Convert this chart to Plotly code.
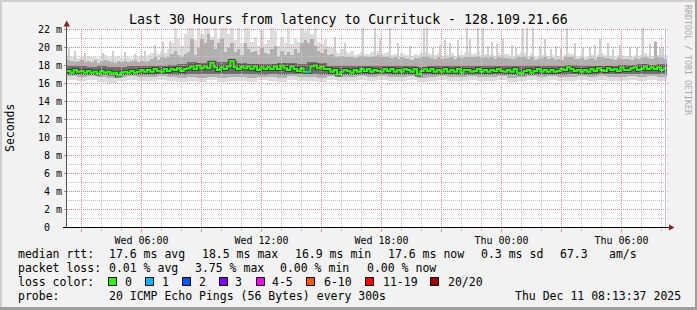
import numpy as np
import pandas as pd
import plotly.graph_objects as go

MONO = "DejaVu Sans Mono"

# ---------------- data ----------------
T0 = pd.Timestamp("2025-12-10 02:16:30")
T1 = T0 + pd.Timedelta(hours=30)

# median RTT per 10-minute bin (ms)
median_ms = [
    17.4,17.2,17.5,17.3,17.4,17.2, 17.4,17.2,17.3,17.1,17.4,17.2,
    17.3,17.1,17.2,16.9,17.2,17.3, 17.2,17.4,17.2,17.3,17.5,17.3,
    17.5,17.3,17.6,17.4,17.3,17.6, 17.4,17.6,17.5,17.7,17.4,17.6,
    17.7,17.9,17.6,18.0,17.7,17.9, 17.7,18.3,17.8,17.5,17.8,17.6,
    17.9,18.5,17.8,17.6,17.9,17.7, 17.9,17.6,17.9,17.5,17.8,17.6,
    17.8,17.6,17.9,17.6,18.0,17.7, 17.5,17.9,17.6,17.4,17.7,17.3,
    17.3,17.9,18.0,17.7,17.9,17.6, 17.6,17.3,17.5,17.0,17.3,17.5,
    17.4,17.2,17.5,17.3,17.6,17.4, 17.6,17.3,17.5,17.4,17.3,17.6,
    17.4,17.6,17.3,17.5,17.3,17.6, 17.5,17.3,17.6,17.0,17.4,17.6,
    17.4,17.6,17.3,17.5,17.3,17.6, 17.3,17.5,17.3,17.6,17.2,17.5,
    17.5,17.3,17.4,17.6,17.3,17.5, 17.3,17.5,17.4,17.6,17.4,17.3,
    17.5,17.3,17.6,17.2,17.1,17.4, 17.5,17.2,17.4,17.6,17.3,17.5,
    17.3,17.5,17.3,17.4,17.6,17.5, 17.8,17.6,17.4,17.5,17.3,17.5,
    17.3,17.6,17.4,17.7,17.5,17.4, 17.7,17.5,17.6,17.4,17.8,17.5,
    17.5,17.7,17.8,17.5,17.6,17.9, 17.6,17.8,17.6,17.8,17.5,17.7,
]
# slowest ping per 10-minute bin (ms)
ping_max = [
    19.2,19.0,18.9,18.8,19.0,18.9, 19.1,18.9,19.0,18.8,19.1,19.2,
    19.0,18.9,19.0,19.1,18.8,19.0, 19.0,18.8,19.2,18.9,19.1,19.0,
    19.2,19.4,19.6,19.3,19.5,19.4, 19.8,20.5,22.2,21.0,20.2,21.5,
    22.2,22.2,20.8,22.2,21.5,22.2, 22.2,21.2,22.2,21.0,22.2,22.2,
    21.5,22.2,20.8,22.2,20.5,22.2, 22.2,20.6,21.2,20.2,22.0,20.4,
    20.8,22.2,21.8,20.2,21.2,20.5, 22.2,20.4,21.0,20.6,22.2,21.8,
    22.2,21.5,22.2,20.6,20.4,21.0, 20.2,20.0,19.6,19.4,19.8,19.6,
    19.4,19.6,19.2,19.3,19.5,19.3, 19.3,19.5,19.4,19.6,19.3,19.4,
    19.5,19.2,19.3,19.1,19.4,19.2, 19.2,19.1,19.3,19.2,19.4,19.5,
    19.4,19.3,19.2,19.4,19.1,19.3, 19.2,19.4,19.1,19.3,19.2,19.4,
    19.5,19.3,19.4,19.6,19.2,19.3, 19.2,19.3,19.1,19.4,19.2,19.3,
    19.3,19.1,19.2,19.3,19.5,19.4, 19.1,19.4,19.0,19.1,19.2,19.3,
    19.1,19.2,19.0,19.1,19.0,19.3, 19.4,19.3,19.1,19.0,19.2,19.0,
    19.1,19.2,19.0,19.3,19.4,19.2, 19.2,19.1,19.0,19.2,19.1,19.1,
    19.1,19.0,19.2,19.1,19.2,19.4, 19.2,19.1,19.3,19.2,19.1,19.2,
]
# 90th percentile ping per 10-minute bin (ms)
ping_p90 = [
    18.6,18.5,18.4,18.5,18.6,18.4, 18.5,18.4,18.6,18.3,18.5,18.6,
    18.5,18.4,18.3,18.5,18.4,18.5, 18.4,18.5,18.6,18.4,18.5,18.4,
    18.5,18.7,18.9,18.6,19.0,18.8, 19.0,19.3,19.6,19.2,19.0,19.3,
    19.5,21.0,19.2,20.0,21.0,20.5, 21.5,20.8,19.8,20.5,21.0,19.5,
    20.0,20.5,19.5,19.8,19.2,20.5, 19.8,19.5,19.6,19.2,20.0,19.4,
    19.3,19.8,20.2,19.0,19.6,19.2, 19.5,19.2,19.8,19.4,20.5,20.8,
    20.5,21.0,20.2,19.6,19.4,19.8, 19.2,19.3,19.0,18.9,19.1,19.0,
    18.9,19.0,18.8,18.9,19.1,18.9, 18.9,19.0,19.1,19.2,18.9,19.0,
    19.0,18.8,18.9,18.7,18.9,18.8, 18.7,18.6,18.8,18.8,18.9,19.0,
    19.0,18.8,18.7,18.9,18.7,18.8, 18.8,18.9,18.7,18.9,18.8,19.0,
    19.0,18.9,19.0,19.1,18.8,18.9, 18.8,18.9,18.7,19.0,18.8,18.8,
    18.8,18.7,18.8,18.9,19.0,19.0, 18.7,19.0,18.6,18.7,18.8,18.9,
    18.7,18.8,18.6,18.7,18.6,18.9, 19.0,18.9,18.7,18.7,18.8,18.6,
    18.7,18.8,18.6,18.9,19.0,18.8, 18.8,18.7,18.6,18.8,18.7,18.7,
    18.7,18.6,18.8,18.7,18.8,19.0, 18.8,18.7,20.6,18.9,18.8,18.7,
]
# per 30-minute bin (ms)
ping_min = [
    16.4,16.3,16.4,16.2,16.1,16.3,16.4,16.3,16.3,16.4,
    16.3,16.2,16.3,16.2,16.4,16.2,16.3,16.3,16.2,16.4,
    16.3,16.2,16.4,16.3,16.3,16.2,16.4,16.3,16.3,16.4,
    16.3,16.4,16.3,16.3,16.4,16.2,16.3,16.4,16.3,16.3,
    16.4,16.3,16.3,16.4,16.2,16.3,16.4,16.3,16.4,16.3,
    16.3,16.4,16.3,16.4,16.3,16.3,16.4,16.3,16.4,16.3,
]
ping_p10 = [
    16.8,16.7,16.8,16.7,16.6,16.7,16.8,16.7,16.7,16.8,
    16.7,16.6,16.7,16.6,16.7,16.6,16.7,16.7,16.6,16.7,
    16.7,16.6,16.8,16.7,16.7,16.6,16.8,16.7,16.7,16.8,
    16.7,16.8,16.7,16.7,16.8,16.6,16.7,16.8,16.7,16.7,
    16.8,16.7,16.7,16.8,16.6,16.7,16.8,16.7,16.8,16.7,
    16.7,16.8,16.7,16.8,16.7,16.7,16.8,16.7,16.8,16.7,
]
ping_p25 = [
    17.0,17.0,17.0,16.9,16.9,17.0,17.0,17.0,17.0,17.1,
    17.0,17.0,17.1,17.1,17.1,17.1,17.1,17.1,17.1,17.0,
    17.1,17.0,17.1,17.1,17.1,17.0,17.0,16.9,17.0,17.0,
    17.0,17.1,17.0,17.0,17.0,16.9,17.0,17.0,17.0,17.0,
    17.0,17.0,17.0,17.0,16.9,17.0,17.0,17.0,17.0,17.0,
    17.1,17.0,17.0,17.1,17.1,17.1,17.1,17.1,17.1,17.1,
]
ping_p75 = [
    17.9,17.9,17.8,17.9,17.8,17.8,17.9,17.9,18.0,17.9,
    18.1,18.2,18.4,18.3,18.5,18.4,18.5,18.3,18.2,18.2,
    18.2,18.3,18.3,18.2,18.4,18.3,18.0,17.9,17.9,18.0,
    18.0,17.9,18.0,17.9,18.0,17.8,17.9,18.0,17.9,18.0,
    18.0,17.9,17.9,17.9,17.9,17.9,17.9,17.9,18.0,17.9,
    18.1,18.0,17.9,18.0,18.0,18.1,18.1,18.2,18.1,18.2,
]
# isolated slow pings (5-minute samples)
spike_time = [
    "2025-12-10 02:22", "2025-12-10 02:40", "2025-12-10 03:10", "2025-12-10 04:04",
    "2025-12-10 04:34", "2025-12-10 05:10", "2025-12-10 05:40", "2025-12-10 06:10",
    "2025-12-10 06:40", "2025-12-10 07:04", "2025-12-10 07:25", "2025-12-10 15:40",
    "2025-12-10 16:10", "2025-12-10 17:04", "2025-12-10 17:40", "2025-12-10 17:55",
    "2025-12-10 18:25", "2025-12-10 18:49", "2025-12-10 19:25", "2025-12-10 20:07",
    "2025-12-10 20:16", "2025-12-10 20:34", "2025-12-10 20:55", "2025-12-10 21:10",
    "2025-12-10 21:25", "2025-12-10 21:49", "2025-12-10 22:16", "2025-12-10 22:25",
    "2025-12-10 22:49", "2025-12-10 23:04", "2025-12-10 23:19", "2025-12-10 23:31",
    "2025-12-10 23:46", "2025-12-11 00:04", "2025-12-11 00:31", "2025-12-11 00:43",
    "2025-12-11 01:04", "2025-12-11 01:16", "2025-12-11 01:34", "2025-12-11 01:55",
    "2025-12-11 02:10", "2025-12-11 02:28", "2025-12-11 02:43", "2025-12-11 02:58",
    "2025-12-11 03:16", "2025-12-11 03:40", "2025-12-11 04:04", "2025-12-11 04:25",
    "2025-12-11 04:40", "2025-12-11 04:55", "2025-12-11 05:19", "2025-12-11 05:34",
    "2025-12-11 05:55", "2025-12-11 06:25", "2025-12-11 06:46", "2025-12-11 07:04",
    "2025-12-11 07:25", "2025-12-11 07:40", "2025-12-11 07:55", "2025-12-11 08:04",
]
spike_ms = [
    20.0, 19.6, 19.4, 19.4, 19.6, 19.5, 19.3, 19.6,
    20.3, 20.6, 20.7, 21.2, 20.5, 22.2, 22.2, 21.0,
    22.2, 20.5, 20.2, 22.2, 22.2, 20.0, 20.3, 20.8,
    20.5, 20.8, 22.2, 21.0, 22.2, 22.2, 20.2, 20.6,
    20.4, 21.0, 20.3, 19.9, 22.2, 22.2, 22.2, 20.2,
    21.0, 19.8, 20.2, 20.0, 22.2, 20.5, 19.9, 20.0,
    20.3, 21.0, 20.5, 19.8, 20.3, 20.0, 19.9, 22.2,
    20.4, 20.7, 20.0, 20.1,
]
# bins with packet loss
loss_time = ["2025-12-10 14:16:30"]
loss_ms = [17.3]
loss_color_of = ["#00b8ff"]

y_ticks = [0, 2, 4, 6, 8, 10, 12, 14, 16, 18, 20, 22]
y_ticktext = ["0\u00a0\u00a0", "2 m", "4 m", "6 m", "8 m", "10 m", "12 m",
              "14 m", "16 m", "18 m", "20 m", "22 m"]
x_label_times = ["2025-12-10 06:00", "2025-12-10 12:00", "2025-12-10 18:00",
                 "2025-12-11 00:00", "2025-12-11 06:00"]
x_label_text = ["Wed 06:00", "Wed 12:00", "Wed 18:00", "Thu 00:00", "Thu 06:00"]

legend_names = ["0", "1", "2", "3", "4-5", "6-10", "11-19", "20/20"]
legend_colors = ["#26ff00", "#00b8ff", "#0059ff", "#7e00ff", "#ff00ff",
                 "#ff5500", "#ff0000", "#a10000"]

# ---------------- derived bins ----------------
N = len(median_ms)
bin_start = [T0 + pd.Timedelta(minutes=10 * k) for k in range(N)]
bin_mid = [t + pd.Timedelta(minutes=5) for t in bin_start]
rep = lambda a: np.repeat(np.array(a, float), 3)
mn, p10, p25, p75 = rep(ping_min), rep(ping_p10), rep(ping_p25), rep(ping_p75)
p90 = np.array(ping_p90, float)
mx = np.array(ping_max, float)
W = 10 * 60 * 1000 + 20000

fig = go.Figure()


def band(x, lo, hi, color, width):
    fig.add_trace(go.Bar(x=x, y=np.array(hi) - np.array(lo), base=lo, width=width,
                         marker=dict(color=color, line=dict(width=0)),
                         hoverinfo="skip"))


band(bin_mid, mn, mx, "#dcdcdc", W)
sp_t = [pd.Timestamp(t) for t in spike_time]
sp_idx = [min(N - 1, int((t - T0) / pd.Timedelta(minutes=10))) for t in sp_t]
band(sp_t, [p75[i] for i in sp_idx], spike_ms, "#cfcfcf", 5 * 60 * 1000)
band(bin_mid, p10, p90, "#b0b0b0", W)
band(bin_mid, p25, p75, "#707070", W)

med_x = bin_start + [T1]
med_y = median_ms + [median_ms[-1]]
fig.add_trace(go.Scatter(x=med_x, y=med_y, mode="lines", line_shape="hv",
                         line=dict(color="#404040", width=4), hoverinfo="skip"))
fig.add_trace(go.Scatter(x=med_x, y=med_y, mode="lines", line_shape="hv",
                         line=dict(color="#26ff00", width=2), hoverinfo="skip"))
for t, v, c in zip(loss_time, loss_ms, loss_color_of):
    ts = pd.Timestamp(t)
    fig.add_trace(go.Scatter(x=[ts, ts + pd.Timedelta(minutes=10)], y=[v, v],
                             mode="lines", line=dict(color=c, width=2),
                             hoverinfo="skip"))

# ---------------- layout helpers ----------------
L, R, TOP, BOT = 67, 667, 28, 228
px2x = lambda p: (p - L) / (R - L)
py2y = lambda p: (BOT - p) / (BOT - TOP)

shapes = []
h = T0.ceil("h")
while h < T1:
    major = (h.hour % 3 == 0)
    shapes.append(dict(type="line", xref="x", yref="paper", x0=h, x1=h, y0=0, y1=1,
                       layer="above",
                       line=dict(color="#e08a8a" if major else "#c4c4c4", width=1,
                                 dash="1px,1px")))
    h += pd.Timedelta(hours=1)
for v in range(1, 23):
    major = (v % 2 == 0)
    shapes.append(dict(type="line", xref="paper", yref="y", x0=0, x1=px2x(669),
                       y0=v, y1=v, layer="above",
                       line=dict(color="#e08a8a" if major else "#c4c4c4", width=1,
                                 dash="1px,1px")))
shapes.append(dict(type="line", xref="paper", yref="paper", x0=px2x(665.5), x1=px2x(665.5),
                   y0=0, y1=1, layer="above", line=dict(color="#c4b4f0", width=1)))
shapes.append(dict(type="line", xref="paper", yref="paper", x0=px2x(66.5), x1=px2x(66.5),
                   y0=py2y(227.5), y1=py2y(24), layer="above",
                   line=dict(color="#555555", width=1)))
shapes.append(dict(type="line", xref="paper", yref="paper", x0=px2x(63), x1=px2x(669),
                   y0=py2y(227.5), y1=py2y(227.5), layer="above",
                   line=dict(color="#000000", width=1)))


def tri(pts, color):
    p = "M " + " L ".join(f"{px2x(a)},{py2y(b)}" for a, b in pts) + " Z"
    return dict(type="path", xref="paper", yref="paper", path=p, layer="above",
                fillcolor=color, line=dict(width=0))


shapes.append(tri([(63.5, 26.5), (70, 26.5), (66.75, 20.5)], "#8f1f1f"))
shapes.append(tri([(669, 224.5), (669, 230.5), (674.5, 227.5)], "#8f1f1f"))


def rect(x0, y0, x1, y1, color, line=None):
    return dict(type="rect", xref="paper", yref="paper", x0=px2x(x0), x1=px2x(x1),
                y0=py2y(y1), y1=py2y(y0), layer="above", fillcolor=color,
                line=line or dict(width=0))


shapes.append(rect(0, 0, 697, 2, "#cfcfcf"))
shapes.append(rect(0, 0, 2, 310, "#cfcfcf"))
shapes.append(rect(695, 0, 697, 310, "#9e9e9e"))
shapes.append(rect(0, 307, 697, 310, "#9e9e9e"))

box_x = [108.5, 145.5, 182.5, 219.5, 256.5, 306.5, 365.5, 430.5]
text_x = [123, 160, 196.5, 233, 270, 321.5, 380.5, 445.5]
for bx, c in zip(box_x, legend_colors):
    shapes.append(rect(bx, 277.5, bx + 8, 285.5, c, dict(color="#000000", width=1)))

annotations = []


def ann(text, px, py, size=11.5, xanchor="left", color="#000000", angle=0):
    annotations.append(dict(x=px2x(px), y=py2y(py), xref="paper", yref="paper",
                            text=text, showarrow=False, xanchor=xanchor,
                            yanchor="middle", textangle=angle,
                            font=dict(family=MONO, size=size, color=color)))


ann("Last 30 Hours from latency to Currituck - 128.109.21.66", 348, 19,
    size=13.25, xanchor="center")
ann("Seconds", 10, 128, size=11.5, xanchor="center", angle=-90)
ann("RRDTOOL / TOBI OETIKER", 688, 60, size=8.3, xanchor="center",
    color="#a8a8a8", angle=90)

row1, row2, row3, row4 = 254.3, 267.7, 281.7, 295.7
ann("median rtt:", 16, row1)
ann("17.6 ms avg", 107.3, row1)
ann("18.5 ms max", 200, row1)
ann("16.9 ms min", 293.3, row1)
ann("17.6 ms now", 386, row1)
ann("0.3 ms sd", 479.3, row1)
ann("67.3", 558.3, row1)
ann("am/s", 606.7, row1)
ann("packet loss:", 16, row2)
ann("0.01 % avg", 107.3, row2)
ann("3.75 % max", 193.3, row2)
ann("0.00 % min", 278.3, row2)
ann("0.00 % now", 365, row2)
ann("loss color:", 16, row3)
for tx, name in zip(text_x, legend_names):
    ann(name, tx, row3)
ann("probe:", 16, row4)
ann("20 ICMP Echo Pings (56 Bytes) every 300s", 107.3, row4)
ann("Thu Dec 11 08:13:37 2025", 513.3, row4)

major_ticks = [pd.Timestamp("2025-12-10 03:00") + pd.Timedelta(hours=3 * k) for k in range(10)]
label_map = {pd.Timestamp(t): s for t, s in zip(x_label_times, x_label_text)}
major_text = [label_map.get(t, "") for t in major_ticks]

fig.update_layout(
    width=697, height=310,
    margin=dict(l=L, r=697 - R, t=TOP, b=310 - BOT),
    paper_bgcolor="#f2f2f2", plot_bgcolor="#ffffff",
    showlegend=False, barmode="overlay", bargap=0,
    font=dict(family=MONO, size=10, color="#000000"),
    shapes=shapes, annotations=annotations,
    xaxis=dict(type="date", range=[T0, T1], tickvals=major_ticks, ticktext=major_text,
               ticks="outside", ticklen=3, tickcolor="#e08a8a", showgrid=False,
               zeroline=False, showline=False, tickangle=0,
               tickfont=dict(family=MONO, size=10),
               minor=dict(dtick=3600000, tick0="2025-12-10 00:00", ticks="outside",
                          ticklen=2, tickcolor="#bbbbbb", showgrid=False)),
    yaxis=dict(range=[-0.5 / 9, 199.5 / 9], tickvals=y_ticks, ticktext=y_ticktext,
               ticks="outside", ticklen=2, tickcolor="#999999", showgrid=False,
               zeroline=False, showline=False, tickfont=dict(family=MONO, size=10)),
)

fig.write_html("out.html")
